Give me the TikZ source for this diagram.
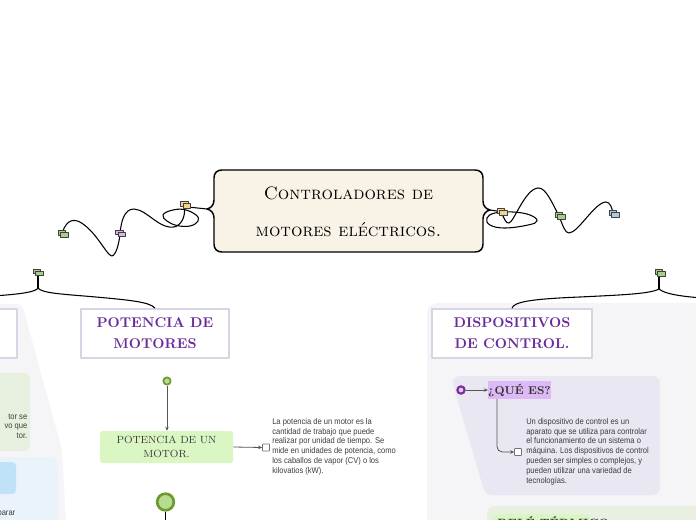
\documentclass[tikz,border=0pt]{standalone}
\usepackage{fontspec}
\usetikzlibrary{arrows.meta}
\newfontfamily\bodyfont[FakeStretch=0.9]{Liberation Sans}
\definecolor{cream}{HTML}{F9F3E7}
\definecolor{panelgray}{HTML}{F5F5F8}
\definecolor{lavpanel}{HTML}{E9E7F1}
\definecolor{boxborder}{HTML}{D8D4E6}
\definecolor{headpurple}{HTML}{6A2C9A}
\definecolor{labgreen}{HTML}{DAF6C2}
\definecolor{leftgreen}{HTML}{E7EFDF}
\definecolor{greenpanel}{HTML}{E8F0E1}
\definecolor{leftblue}{HTML}{EAF2FA}
\definecolor{bluelab}{HTML}{C0E2F6}
\definecolor{labpurple}{HTML}{DDB9F5}
\definecolor{dkgreen}{HTML}{6B9B2F}
\definecolor{ltgreen}{HTML}{B8DC8F}
\definecolor{dkpurple}{HTML}{7A2E9C}
\definecolor{ltpurple}{HTML}{E3C8F5}
\definecolor{bodygray}{HTML}{3C3C3C}
\definecolor{linegray}{HTML}{555555}
\definecolor{tagyellow}{HTML}{F2D58A}
\definecolor{tagpurple}{HTML}{D5B6F0}
\definecolor{taggreen}{HTML}{A8CF8A}
\definecolor{tagblue}{HTML}{A8CCE0}
\newcommand\mmtag[4]{%
  \node[tagr,fill=#4] (#1) at (#2,#3) {};
  \node[tagr,fill=#4] (#1b) at (#2+2.5,#3+2) {};
}
\begin{document}
\begin{tikzpicture}[x=0.75pt,y=-0.75pt,line join=round,
  tagr/.style={rectangle,draw=black!75,line width=0.5pt,minimum width=5.6pt,minimum height=3.4pt,inner sep=0},
  conn/.style={draw=black,line width=0.8pt},
  arr/.style={draw=linegray,line width=0.6pt,-{Stealth[length=3pt,width=2.6pt]}},
  headbox/.style={rectangle,draw=boxborder,line width=1.3pt,fill=white,align=center,
    text=headpurple,font=\bfseries\fontsize{10.6}{15.75}\selectfont,inner sep=0},
  bodytext/.style={font=\bodyfont\fontsize{6.3}{7.35}\selectfont,align=left,inner sep=0,text=bodygray},
  checkb/.style={rectangle,draw=black!55,fill=white,line width=0.5pt,minimum size=5.3pt,inner sep=0,rounded corners=0.5pt},
  titletext/.style={align=center,font=\scshape\fontsize{13.5}{27.75}\selectfont,inner sep=0}
]
\useasboundingbox (0,0) rectangle (696,520);
\clip (0,0) rectangle (696,520);

% background panels
\fill[panelgray] (0,304) -- (16,304) .. controls (21,304) and (23,307) .. (24,311) -- (62,450) -- (66,525) -- (0,525) -- cycle;
\fill[panelgray,rounded corners=8pt] (427,303) rectangle (720,540);
\fill[leftgreen,rounded corners=5pt] (-10,373) rectangle (30,451);
\fill[leftblue,rounded corners=5pt] (-10,457) rectangle (58,540);
\fill[bluelab,rounded corners=3pt] (-10,462) rectangle (16,494);
\fill[lavpanel] (453,385) .. controls (452,379) and (455,376) .. (461,376) -- (652,376) .. controls (657,376) and (660,379) .. (660,384) -- (660,487) .. controls (660,492) and (657,495) .. (652,495) -- (492,495) .. controls (487,495) and (485,492) .. (483,487) -- cycle;
\fill[greenpanel,rounded corners=6pt] (487,506) rectangle (720,540);
\fill[labgreen,rounded corners=3pt] (492,514) rectangle (590,540);

% left cropped texts
\node[bodytext,anchor=north east,align=right] (lt1) at (27.5,413.5) {tor se\\vo que\\tor.};
\node[bodytext,anchor=north east,align=right] (lt2) at (15.5,510.5) {parar};

% central node
\coordinate (bl) at (207,209);
\coordinate (br) at (490,210);
\draw[line width=1.1pt,fill=cream] (222,170) -- (475,170) .. controls (480,170) and (483,173) .. (483,178) -- (483,201) .. controls (483,206) and (486,209) .. (br) .. controls (486,211) and (483,214) .. (483,219) -- (483,244) .. controls (483,249) and (480,252) .. (475,252) -- (222,252) .. controls (217,252) and (214,249) .. (214,244) -- (214,218) .. controls (214,213) and (211,210) .. (bl) .. controls (211,208) and (214,205) .. (214,200) -- (214,178) .. controls (214,173) and (217,170) .. (222,170) -- cycle;
\node[titletext] (title) at (348.5,211.5) {Controladores de\\motores eléctricos.};

% left decorative connectors
\draw[conn] plot[smooth cycle,tension=0.7] coordinates {(163,215) (171,210.5) (184,209.5) (196,215) (198,221) (190,226) (177,225.5) (167,221)};
\draw[conn] (bl) -- (188,207);
\draw[conn] (184.5,206) .. controls (185,214) and (184,222) .. (176,226.5) .. controls (160,231) and (148,210) .. (134,209) .. controls (124,209) and (121,222) .. (120,234) .. controls (119,244) and (116,255) .. (112,256) .. controls (108,256) and (100,240) .. (90,230) .. controls (82,222) and (75,218) .. (69,222) .. controls (65,225) and (63,230) .. (62,234);
\mmtag{t1}{184.5}{204}{tagyellow}
\mmtag{p1}{119.5}{232.5}{tagpurple}
\mmtag{g1}{62}{233}{taggreen}

% right decorative connectors
\draw[conn] plot[smooth cycle,tension=0.7] coordinates {(487,218) (495,213) (513,212) (530,215) (537,221) (528,225) (505,228) (490,225)};
\draw[conn] (br) -- (500,211.5);
\draw[conn] (501,212) .. controls (504,218) and (506,224) .. (509,223) .. controls (514,222) and (525,189) .. (538,188) .. controls (546,187) and (553,205) .. (559,216) .. controls (563,226) and (565,233) .. (569,233) .. controls (578,233) and (595,202) .. (606,202) .. controls (610,202) and (612,208) .. (613,213);
\mmtag{t2}{501}{211}{tagyellow}
\mmtag{g2}{559}{215}{taggreen}
\mmtag{b2}{613}{213}{tagblue}

% left branch
\coordinate (lj) at (38,288);
\draw[conn] (38,273) -- (lj);
\draw[conn] (lj) .. controls (36,292) and (20,294) .. (0,295.5);
\mmtag{lt}{37}{271.5}{taggreen}
\node[headbox,minimum width=100pt,minimum height=36.75pt] (lbox) at (-49.7,333.5) {};
\node[headbox,minimum width=111pt,minimum height=36.75pt] (pm) at (155,333.5) {POTENCIA DE\\MOTORES};
\draw[conn] (lj) .. controls (42,293) and (60,294) .. (90,296.5) .. controls (130,300) and (150,302) .. (pm.north);

% right branch
\coordinate (rj) at (659,289);
\draw[conn] (659,274) -- (rj);
\draw[conn] (rj) .. controls (665,294) and (680,296) .. (696,297.5);
\mmtag{rt}{659}{272}{taggreen}
\node[headbox,minimum width=120pt,minimum height=36.75pt] (dc) at (512,333.5) {DISPOSITIVOS\\DE CONTROL.};
\draw[conn] (rj) .. controls (650,294) and (620,295) .. (580,297) .. controls (530,299) and (514,302) .. (dc.north);

% potencia subtree
\node[circle,draw=dkgreen,line width=1.3pt,fill=ltgreen,minimum size=5.5pt,inner sep=0] (c1) at (167,381) {};
\node[rectangle,fill=labgreen,rounded corners=2pt,minimum width=99.75pt,minimum height=24pt,align=center,inner sep=0,
  text=bodygray,font=\fontsize{7.8}{10.5}\selectfont] (pbox) at (166.5,447) {POTENCIA DE UN\\MOTOR.};
\draw[arr] (c1) -- (pbox.north -| c1);
\node[checkb] (cb1) at (266,447.5) {};
\draw[arr] (pbox.east) -- (cb1.west);
\node[bodytext,anchor=north west] (ptxt) at (272,418) {La potencia de un motor es la\\cantidad de trabajo que puede\\realizar por unidad de tiempo. Se\\mide en unidades de potencia, como\\los caballos de vapor (CV) o los\\kilovatios (kW).};
\node[circle,draw=dkgreen,line width=2pt,fill=ltgreen,minimum size=12.5pt,inner sep=0] (c2) at (165.5,502) {};
\draw[line width=0.8pt] (c2.south) -- (165.5,525);

% dispositivos subtree
\node[circle,draw=dkpurple,line width=1.6pt,fill=ltpurple,minimum size=5.5pt,inner sep=0] (c3) at (461,390) {};
\node[rectangle,fill=labpurple,minimum width=42.75pt,minimum height=13.5pt,inner sep=0,
  text=black!80,font=\bfseries\fontsize{8.5}{10}\selectfont] (qe) at (519.5,390) {¿QUÉ ES?};
\draw[arr] (c3) -- (qe.west);
\node[checkb] (cb2) at (518,452) {};
\draw[arr,rounded corners=4pt] (497,399) -- (497,452) -- (cb2.west);
\node[bodytext,anchor=north west] (dtxt) at (526,418) {Un dispositivo de control es un\\aparato que se utiliza para controlar\\el funcionamiento de un sistema o\\máquina. Los dispositivos de control\\pueden ser simples o complejos, y\\pueden utilizar una variedad de\\tecnologías.};

% bottom cropped label
\node[anchor=north west,inner sep=0,text=black!80,font=\bfseries\fontsize{9}{10}\selectfont] (rt) at (497,516.5) {RELÉ TÉRMICO};
\end{tikzpicture}
\end{document}
